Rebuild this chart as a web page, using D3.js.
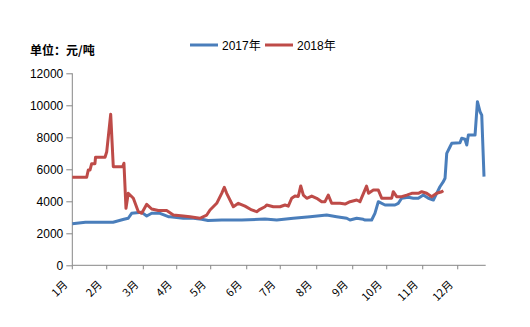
<!DOCTYPE html>
<html>
<head>
<meta charset="utf-8">
<script src="https://cdn.jsdelivr.net/npm/d3@7/dist/d3.min.js"></script>
<style>
  html, body { margin: 0; padding: 0; background: #fff; }
  svg { display: block; }
</style>
</head>
<body>
<svg id="chart" width="530" height="327"></svg>
<script>
// Month labels and the day-of-year where each month's tick sits
const monthLabels = ["1月","2月","3月","4月","5月","6月","7月","8月","9月","10月","11月","12月"];
const monthTickDays = [0, 30.4, 62.7, 92.2, 122.2, 154, 183.6, 215.8, 247.6, 277.6, 309.4, 340.3];
const yTicks = [0, 2000, 4000, 6000, 8000, 10000, 12000];

// 2017 price series: [day of year, 元/吨]
const series2017 = [
  [0,2600],[11.6,2690],[36,2690],[45.6,2875],[49.4,2940],[52.4,3250],[61.3,3310],
  [65.7,3080],[70.1,3250],[77.4,3250],[84.8,3040],[86.3,3040],[98,2940],[106.8,2940],
  [114.3,2875],[119.8,2800],[131.9,2830],[149.6,2830],[170.1,2890],[180.5,2830],
  [195.1,2940],[209.9,3040],[224.6,3140],[233.4,3040],[242.3,2940],[245.2,2830],
  [251.1,2940],[256.9,2875],[258.5,2830],[264.3,2830],[267.2,3250],[270.2,3975],
  [276.1,3770],[284.9,3770],[287.8,3875],[290.8,4190],[296.7,4250],[301.1,4190],
  [305.5,4190],[309.9,4390],[314.4,4190],[318.8,4080],[321.7,4500],[324.6,4910],
  [327.6,5225],[329.1,5440],[330.6,7000],[333.5,7410],[335,7625],[342.3,7660],
  [343.8,7940],[346.7,7875],[348.3,7520],[349.7,8140],[355.6,8140],[357.7,10225],
  [360,9600],[361.5,9390],[363.5,5540]
];

// 2018 price series: [day of year, 元/吨]
const series2018 = [
  [0,5500],[12.7,5500],[14.1,5950],[15.6,5950],[17.1,6350],[20,6350],[20.5,6750],
  [28.9,6750],[30.4,7100],[33.9,9440],[36.2,6160],[44.5,6160],[45.6,6380],[47.4,3560],
  [49.4,4500],[53.9,4190],[58.3,3350],[61.3,3250],[65.7,3810],[70.1,3520],[75.9,3420],
  [83.3,3420],[89.2,3140],[98,3080],[103.9,3040],[112.7,2940],[118.7,3140],[121.6,3460],
  [127.5,3875],[131.9,4500],[134.2,4875],[136.3,4500],[142.2,3660],[146.6,3875],
  [152.5,3700],[158.4,3460],[162.8,3350],[165.7,3500],[170.1,3660],[171.6,3770],
  [177.5,3660],[183.4,3660],[187.8,3770],[190.7,3700],[193.7,4190],[196.6,4330],
  [199.5,4300],[201.7,4960],[204,4390],[207,4190],[211.4,4330],[215.8,4190],
  [220.2,3975],[223.1,3975],[226,4390],[229,3875],[236.4,3875],[240.8,3830],
  [245.2,3975],[251.1,4080],[254,3975],[259.8,4950],[261.6,4500],[265.8,4700],
  [270.2,4700],[273.2,4190],[282,4190],[283.4,4600],[286.4,4290],[290.8,4290],
  [295.3,4390],[299.7,4500],[305.5,4500],[308.5,4600],[312.9,4500],[317.3,4290],
  [321.7,4500],[326.2,4600],[327.6,4660]
];

const seriesNames = ["2017年", "2018年"];
const colors = ["#4a7ebb", "#be4b48"];

const svg = d3.select("#chart");
const plotLeft = 72.3, plotRight = 485.7, plotTop = 73.3, plotBottom = 265.3;

const x = d3.scaleLinear().domain([0, 365]).range([plotLeft, plotRight]);
const y = d3.scaleLinear().domain([0, 12000]).range([plotBottom, plotTop]);

const axisColor = "#868686";
const latin = "Arial, 'Liberation Sans', 'Noto Sans CJK SC', sans-serif";
const cjk = "'Noto Sans CJK SC', 'Liberation Sans', sans-serif";

// Y axis
const yAxis = svg.append("g")
  .attr("transform", `translate(${plotLeft},0)`)
  .call(d3.axisLeft(y).tickValues(yTicks).tickSize(6).tickPadding(3).tickFormat(d3.format("d")));
yAxis.select(".domain").attr("stroke", axisColor).attr("d", `M0,${plotTop}V${plotBottom}`);
yAxis.selectAll(".tick line").attr("stroke", axisColor);
yAxis.selectAll(".tick text").attr("font-family", latin).attr("font-size", 12).attr("fill", "#000");

// X axis line and month ticks
const xAxis = svg.append("g").attr("transform", `translate(0,${plotBottom})`);
xAxis.append("line")
  .attr("x1", plotLeft).attr("x2", plotRight).attr("y1", 0).attr("y2", 0)
  .attr("stroke", axisColor);
xAxis.selectAll("line.tick").data(monthTickDays).join("line")
  .attr("class", "tick")
  .attr("x1", d => x(d)).attr("x2", d => x(d))
  .attr("y1", 0).attr("y2", 4)
  .attr("stroke", axisColor);
xAxis.selectAll("text").data(monthLabels).join("text")
  .attr("transform", (d, i) => `translate(${x(monthTickDays[i]) - 4},20) rotate(-45)`)
  .attr("text-anchor", "end")
  .attr("font-family", cjk)
  .attr("font-size", 11)
  .attr("fill", "#000")
  .text(d => d);

// Series lines
const line = d3.line().x(d => x(d[0])).y(d => y(d[1]));
[series2017, series2018].forEach((s, i) => {
  svg.append("path")
    .datum(s)
    .attr("d", line)
    .attr("fill", "none")
    .attr("stroke", colors[i])
    .attr("stroke-width", 3)
    .attr("stroke-linejoin", "round");
});

// Unit title
svg.append("text")
  .attr("x", 30).attr("y", 55)
  .attr("font-family", cjk)
  .attr("font-size", 12)
  .attr("font-weight", "bold")
  .attr("fill", "#000")
  .text("单位：元/吨");

// Legend
const legendX = [190, 265];
seriesNames.forEach((name, i) => {
  const g = svg.append("g").attr("transform", `translate(${legendX[i]},45)`);
  g.append("line").attr("x1", 0).attr("x2", 28).attr("y1", 0).attr("y2", 0)
    .attr("stroke", colors[i]).attr("stroke-width", 3);
  g.append("text").attr("x", 32).attr("y", 4.5)
    .attr("font-family", latin).attr("font-size", 12).attr("fill", "#000")
    .text(name);
});
</script>
</body>
</html>
